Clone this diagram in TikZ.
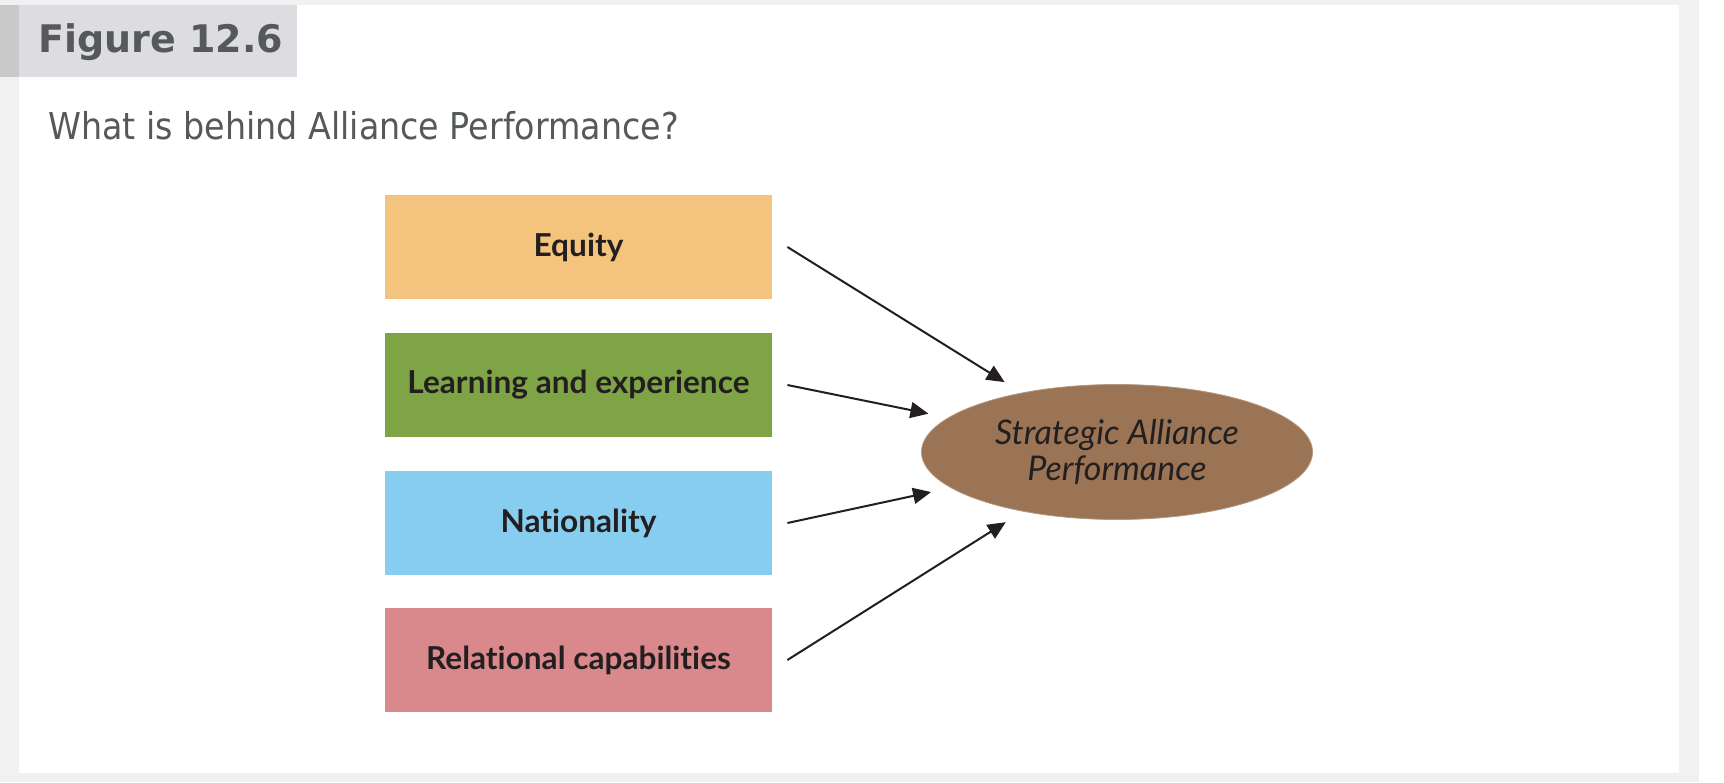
\documentclass[tikz,border=0pt]{standalone}
\usepackage{fontspec}
\setmainfont{Lato}[Ligatures=NoCommon]
\newfontfamily\tabfont{DejaVu Sans}
\newfontfamily\subfont[FakeStretch=0.9]{DejaVu Sans}
\usetikzlibrary{arrows.meta,positioning,shapes.geometric}
\definecolor{pagegray}{HTML}{F1F1F1}
\definecolor{tabfill}{HTML}{DCDCE1}
\definecolor{tabedge}{HTML}{C9C9C9}
\definecolor{slate}{HTML}{555959}
\definecolor{ink}{HTML}{231F20}
\definecolor{equitywash}{HTML}{F4C47F}
\definecolor{learnwash}{HTML}{7FA446}
\definecolor{nationwash}{HTML}{87CDF0}
\definecolor{relatewash}{HTML}{D9888C}
\definecolor{perfwash}{HTML}{9A7455}
\tikzset{factor/.style={minimum width=193.5pt,minimum height=52pt,inner sep=0pt,font=\bfseries\fontsize{15.8}{18}\selectfont,text=ink},outcome/.style={ellipse,minimum width=195.5pt,minimum height=67.5pt,inner sep=0pt,fill=perfwash,draw=perfwash!75!white,line width=.4pt,align=center,font=\itshape\fontsize{17}{18}\selectfont,text=ink},arr/.style={-{Triangle[length=9pt,width=8pt]},draw=ink,line width=1pt,shorten >=10pt},tab/.style={font=\tabfont\bfseries\fontsize{19}{22}\selectfont,text=slate,anchor=west,inner sep=0pt},caption/.style={font=\subfont\fontsize{18.5}{22}\selectfont,text=slate,anchor=west,inner sep=0pt}}

\begin{document}
\begin{tikzpicture}[x=.5pt,y=-.5pt]
\useasboundingbox (0,0) rectangle (1724,782);
\fill[pagegray] (0,0) rectangle (1699,782);
\fill[white] (1699,0) rectangle (1724,782);
\fill[white] (19,5) rectangle (1679,773);
\fill[tabfill] (0,5) rectangle (297,77);
\fill[tabedge] (0,5) rectangle (19,77);

\node[tab] (fig) at (38,42) {Figure 12.6};
\node[caption] (title) at (48,126) {What is behind Alliance Performance?};

\node[factor,fill=equitywash] (equity) at (578.5,247) {Equity};
\node[factor,fill=learnwash] (learn) at (578.5,385) {Learning and experience};
\node[factor,fill=nationwash] (nation) at (578.5,523) {Nationality};
\node[factor,fill=relatewash] (relate) at (578.5,660) {Relational capabilities};
\node[outcome] (perf) at (1117,452) {Strategic Alliance\\Performance};

\draw[arr] ([xshift=7.5pt]equity.east)--(perf); \draw[arr] ([xshift=7.5pt]learn.east)--(perf);
\draw[arr] ([xshift=7.5pt]nation.east)--(perf); \draw[arr] ([xshift=7.5pt]relate.east)--(perf);
\end{tikzpicture}
\end{document}
